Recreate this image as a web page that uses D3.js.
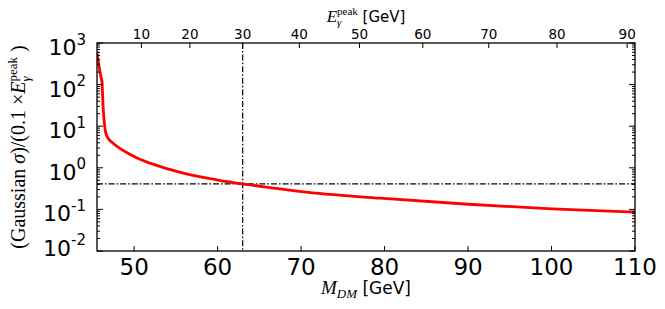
<!DOCTYPE html>
<html>
<head>
<meta charset="utf-8">
<script src="https://cdn.jsdelivr.net/npm/d3@7"></script>
<style>
  html, body { margin: 0; padding: 0; background: #fff; }
  svg { display: block; }
</style>
</head>
<body>
<svg id="chart"></svg>
<script>
// Gaussian width / (0.1 x E_peak) vs dark matter mass, log y, with E_peak top axis

const massDM = [45.56, 45.80, 46.01, 46.16, 46.21, 46.28, 46.40, 46.61, 46.88, 47.48,
  48.29, 49.48, 50.68, 51.88, 55.88, 59.88, 62.95, 66.27, 70.0, 79.46, 90.05, 100.05, 110.0];
const sigmaRatio = [574, 273, 157, 109, 62, 29.6, 14.2, 6.76, 5.13, 3.88,
  2.94, 2.11, 1.60, 1.30, 0.745, 0.514, 0.411, 0.335, 0.268, 0.186, 0.133, 0.103, 0.086];

const xTicks = [50, 60, 70, 80, 90, 100, 110];
const eTicks = [10, 20, 30, 40, 50, 60, 70, 80, 90];   // E_gamma^peak [GeV]
const yExps = [-2, -1, 0, 1, 2, 3];

const cutMass = 63;      // vertical dash-dot
const cutRatio = 0.41;   // horizontal dash-dot
const MZ = 91.19;        // E = M - mZ^2/(4M)  ->  M = (E + sqrt(E^2 + mZ^2)) / 2

(function () {
  const W = 665, H = 309;
  const M = { top: 43, right: 30, bottom: 58, left: 97 };
  const SANS = "DejaVu Sans, sans-serif";
  const SERIF = "Liberation Serif, DejaVu Serif, serif";

  const svg = d3.select("#chart").attr("width", W).attr("height", H);

  const x = d3.scaleLinear().domain([45.55, 110]).range([M.left, W - M.right]);
  const y = d3.scaleLog().domain([1e-2, 1e3]).range([H - M.bottom, M.top]);
  const [x0, x1] = x.range();
  const [y1, y0] = y.range();

  const massForE = e => (e + Math.sqrt(e * e + MZ * MZ)) / 2;

  // clip
  svg.append("clipPath").attr("id", "plotclip")
    .append("rect").attr("x", x0).attr("y", y0).attr("width", x1 - x0).attr("height", y1 - y0);

  const plot = svg.append("g").attr("clip-path", "url(#plotclip)");

  // dash-dot guide lines
  const DASH = "6,2,1.6,2";
  plot.append("line")
    .attr("x1", x0).attr("x2", x1).attr("y1", y(cutRatio)).attr("y2", y(cutRatio))
    .attr("stroke", "#000").attr("stroke-width", 1.2).attr("stroke-dasharray", DASH);
  plot.append("line")
    .attr("x1", x(cutMass)).attr("x2", x(cutMass)).attr("y1", y0).attr("y2", y1)
    .attr("stroke", "#000").attr("stroke-width", 1.2).attr("stroke-dasharray", DASH);

  // red curve
  const pts = massDM.map((m, i) => [m, sigmaRatio[i]]);
  plot.append("path")
    .attr("d", d3.line().x(d => x(d[0])).y(d => y(d[1])).curve(d3.curveMonotoneX)(pts))
    .attr("fill", "none").attr("stroke", "#ff0000").attr("stroke-width", 2.8);

  // ticks (inward, matplotlib style)
  const tk = svg.append("g").attr("stroke", "#000").attr("stroke-width", 1);
  xTicks.forEach(v => {
    tk.append("line").attr("x1", x(v)).attr("x2", x(v)).attr("y1", y1).attr("y2", y1 - 5);
  });
  eTicks.forEach(e => {
    const px = x(massForE(e));
    tk.append("line").attr("x1", px).attr("x2", px).attr("y1", y0).attr("y2", y0 + 5);
  });
  yExps.forEach(p => {
    const py = y(Math.pow(10, p));
    tk.append("line").attr("x1", x0).attr("x2", x0 + 6).attr("y1", py).attr("y2", py);
    tk.append("line").attr("x1", x1).attr("x2", x1 - 6).attr("y1", py).attr("y2", py);
    if (p < 3) {
      for (let k = 2; k <= 9; k++) {
        const my = y(k * Math.pow(10, p));
        tk.append("line").attr("x1", x0).attr("x2", x0 + 3).attr("y1", my).attr("y2", my);
        tk.append("line").attr("x1", x1).attr("x2", x1 - 3).attr("y1", my).attr("y2", my);
      }
    }
  });

  // frame
  svg.append("rect")
    .attr("x", x0).attr("y", y0).attr("width", x1 - x0).attr("height", y1 - y0)
    .attr("fill", "none").attr("stroke", "#000").attr("stroke-width", 1.3);

  // bottom tick labels
  xTicks.forEach(v => {
    svg.append("text")
      .attr("x", x(v)).attr("y", 275)
      .attr("text-anchor", "middle")
      .attr("font-family", SANS).attr("font-size", 23)
      .text(v);
  });

  // top tick labels
  eTicks.forEach(e => {
    svg.append("text")
      .attr("x", x(massForE(e))).attr("y", 38.5)
      .attr("text-anchor", "middle")
      .attr("font-family", SANS).attr("font-size", 13.5)
      .text(e);
  });

  // left tick labels 10^p
  yExps.forEach(p => {
    const py = y(Math.pow(10, p));
    const t = svg.append("text")
      .attr("x", 86).attr("y", p === -2 ? py + 4.5 : py + 12)
      .attr("text-anchor", "end")
      .attr("font-family", SANS).attr("font-size", 22);
    t.append("tspan").text("10");
    t.append("tspan").attr("dy", -10.5).attr("font-size", 15)
      .text(p < 0 ? "-" + (-p) : String(p));
  });

  // helper to measure text width
  const meas = svg.append("text").attr("visibility", "hidden");
  function width(str, family, size, style) {
    meas.attr("font-family", family).attr("font-size", size).attr("font-style", style || "normal").text(str);
    return meas.node().getComputedTextLength();
  }

  // top axis title: E_gamma^peak [GeV]
  const tt = svg.append("text")
    .attr("x", (x0 + x1) / 2 + 0).attr("y", 22)
    .attr("text-anchor", "middle");
  tt.append("tspan").attr("font-family", SERIF).attr("font-style", "italic").attr("font-size", 17).text("E");
  tt.append("tspan").attr("font-family", SERIF).attr("font-style", "italic").attr("font-size", 11)
    .attr("dy", 4).text("γ");
  tt.append("tspan").attr("font-family", SERIF).attr("font-size", 11)
    .attr("dx", -width("γ", SERIF, 11, "italic")).attr("dy", -11).text("peak");
  tt.append("tspan").attr("font-family", SANS).attr("font-size", 15)
    .attr("dy", 7).text("\u00a0[GeV]");

  // bottom axis title: M_DM [GeV]
  const bt = svg.append("text")
    .attr("x", (x0 + x1) / 2).attr("y", 294)
    .attr("text-anchor", "middle");
  bt.append("tspan").attr("font-family", SERIF).attr("font-style", "italic").attr("font-size", 19).text("M");
  bt.append("tspan").attr("font-family", SERIF).attr("font-style", "italic").attr("font-size", 13)
    .attr("dy", 4).text("DM");
  bt.append("tspan").attr("font-family", SANS).attr("font-size", 17)
    .attr("dy", -4).text("\u00a0[GeV]");

  // y axis title (rotated)
  const cy = (y0 + y1) / 2;
  const yt = svg.append("text")
    .attr("transform", `translate(25,${cy}) rotate(-90)`)
    .attr("text-anchor", "middle")
    .attr("font-family", SERIF).attr("font-size", 20);
  yt.append("tspan").text("(Gaussian\u00a0");
  yt.append("tspan").attr("font-style", "italic").text("σ");
  yt.append("tspan").text(")/(0.1\u00a0×");
  yt.append("tspan").attr("font-style", "italic").text("E");
  yt.append("tspan").attr("font-style", "italic").attr("font-size", 13).attr("dy", 5).text("γ");
  yt.append("tspan").attr("font-size", 13)
    .attr("dx", -width("γ", SERIF, 13, "italic")).attr("dy", -13).text("peak");
  yt.append("tspan").attr("dy", 8).text("\u00a0)");

  meas.remove();
})();
</script>
</body>
</html>
